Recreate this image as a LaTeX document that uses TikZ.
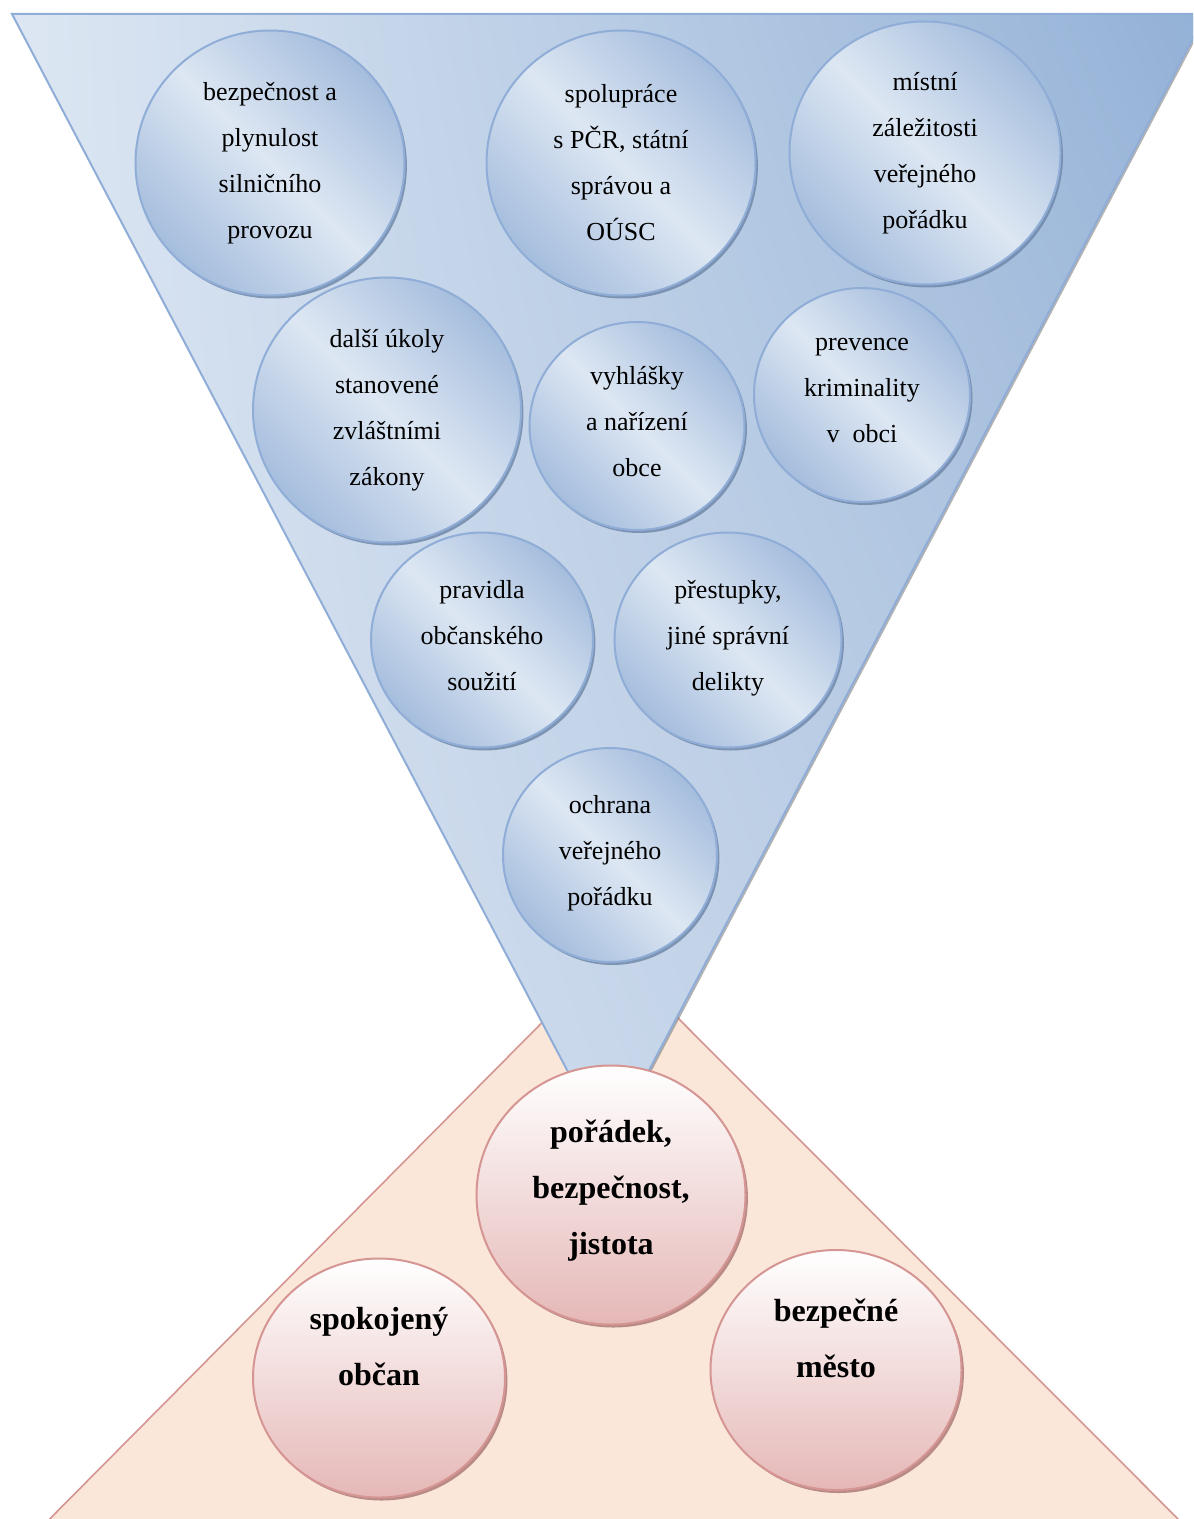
\documentclass[tikz,border=0pt]{standalone}
\usepackage{fontspec}
\setmainfont{Liberation Serif}
\usetikzlibrary{shapes.geometric,
                    shadings,
                    shadows}
\definecolor{modrasvetla}{HTML}{DDE7F3}
\definecolor{modratmava}{HTML}{A5BDDD}
\definecolor{modraokraj}{HTML}{8FADD6}
\definecolor{modrastin}{HTML}{6C84A6}
\definecolor{modrahrot}{HTML}{B6C9E2}
\definecolor{modraroh}{HTML}{93B1D6}
\definecolor{ruzovaokraj}{HTML}{D59593}
\definecolor{ruzovatmava}{HTML}{E5B8B7}
\definecolor{ruzovastin}{HTML}{A87472}
\definecolor{broskev}{HTML}{FBE7D9}
\tikzset{
bublina/.style = {ellipse, inner sep=0pt, align=center, line width=1pt}
                }
\tikzset{
modra/.style = {bublina, draw=modraokraj, top color=modratmava, bottom color=modratmava,
        middle color=modrasvetla, shading angle=-45, font=\fontsize{13}{23}\selectfont,
        drop shadow={shadow xshift=1.2pt, shadow yshift=-1.5pt, fill=modrastin, opacity=0.8}}
         }
\tikzset{
ruzova/.style = {bublina, draw=ruzovaokraj, top color=white, bottom color=ruzovatmava,
        font=\fontsize{16}{28}\selectfont\bfseries,
        drop shadow={shadow xshift=1.2pt, shadow yshift=-1.5pt, fill=ruzovastin, opacity=0.8}}
         }

\begin{document}
\begin{tikzpicture}[x=0.5pt,y=0.5pt]
        \useasboundingbox (0,0) rectangle (1193,-1519);
        \clip (0,0) rectangle (1193,-1519);

        % spodni trojuhelnik
        \draw[ruzovaokraj, line width=0.8pt, fill=broskev] (612,-952) -- (1219,-1560) -- (9,-1560) -- cycle;

        % horni trojuhelnik
        \draw[modraokraj, line width=1pt, shading=bilinear interpolation,
            upper left=modrasvetla, lower left=modrasvetla,
            upper right=modraroh, lower right=modrahrot,
            drop shadow={shadow xshift=1pt, shadow yshift=-1pt, fill=gray, opacity=0.6}]
            (12,-14) -- (1206,-14) -- (608,-1148) -- cycle;

        % ukoly
        \node[modra, minimum width=134.5pt, minimum height=132.5pt] (bezpecnost) at (270,-163)
            {bezpečnost a\\plynulost\\silničního\\provozu};
        \node[modra, minimum width=134.5pt, minimum height=132.5pt] (spoluprace) at (621,-163)
            {spolupráce\\s PČR, státní\\správou a\\OÚSC};
        \node[modra, minimum width=135.5pt, minimum height=131.5pt] (mistni) at (925,-153)
            {místní\\záležitosti\\veřejného\\pořádku};
        \node[modra, minimum width=134pt, minimum height=132.5pt] (dalsi) at (387,-410)
            {další úkoly\\stanovené\\zvláštními\\zákony};
        \node[modra, minimum width=107.5pt, minimum height=104pt, text depth=5pt] (vyhlasky) at (637,-426)
            {vyhlášky\\a nařízení\\obce};
        \node[modra, minimum width=108pt, minimum height=107pt, text depth=5pt] (prevence) at (862,-395)
            {prevence\\kriminality\\v~~obci};
        \node[modra, minimum width=111pt, minimum height=107.5pt, text depth=5pt] (pravidla) at (482,-640)
            {pravidla\\občanského\\soužití};
        \node[modra, minimum width=113.5pt, minimum height=107.5pt, text depth=5pt] (prestupky) at (728,-640)
            {přestupky,\\jiné správní\\delikty};
        \node[modra, minimum width=107pt, minimum height=107pt, text depth=5pt] (ochrana) at (610,-855)
            {ochrana\\veřejného\\pořádku};

        % vysledky
        \node[ruzova, minimum width=134.5pt, minimum height=129.5pt, text depth=7.5pt] (poradek) at (611,-1195)
            {pořádek,\\bezpečnost,\\jistota};
        \node[ruzova, minimum width=126pt, minimum height=119.5pt, text depth=32pt] (spokojeny) at (379,-1378)
            {spokojený\\občan};
        \node[ruzova, minimum width=125.5pt, minimum height=120pt, text depth=32pt] (mesto) at (836,-1370)
            {bezpečné\\město};
    \end{tikzpicture}
\end{document}
